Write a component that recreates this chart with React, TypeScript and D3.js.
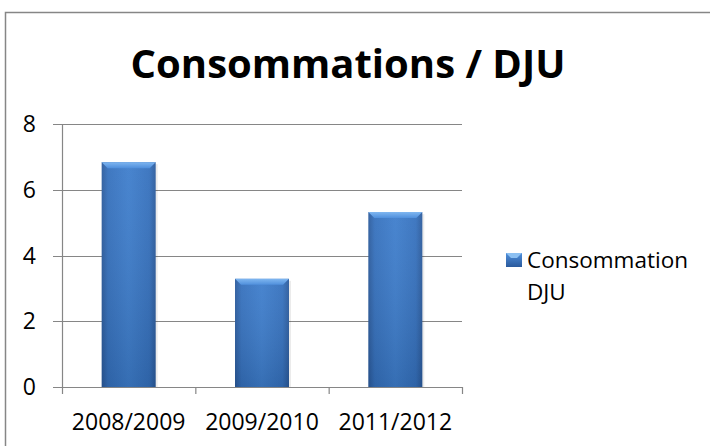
import * as d3 from "d3";

const categories = ["2008/2009", "2009/2010", "2011/2012"];
const values = [6.84, 3.29, 5.32];
const yTicks = [0, 2, 4, 6, 8];
const seriesName = ["Consommation", "DJU"];
const title = "Consommations / DJU";

const W = 710;
const H = 446;
const plot = { left: 62, right: 462, top: 124, bottom: 387 };
const FONT = "'Open Sans', 'Noto Sans', sans-serif";

export default function App() {
  const x = d3.scaleBand<string>().domain(categories).range([plot.left, plot.right]).padding(0);
  const y = d3.scaleLinear().domain([0, 8]).range([plot.bottom, plot.top]);
  const barW = x.bandwidth() * 0.405;
  const bevel = 6;

  return (
    <svg width={W} height={H} style={{ position: "absolute", left: 0, top: 0 }}>
      <defs>
        <linearGradient id="barGrad" x1="0" x2="1" y1="0" y2="0">
          <stop offset="0" stopColor="#2a5a9c" />
          <stop offset="0.12" stopColor="#3470bd" />
          <stop offset="0.5" stopColor="#3d7dcc" />
          <stop offset="0.88" stopColor="#3470bd" />
          <stop offset="1" stopColor="#2a5a9c" />
        </linearGradient>
        <linearGradient id="barShade" x1="0" x2="0" y1="0" y2="1">
          <stop offset="0" stopColor="#ffffff" stopOpacity="0.06" />
          <stop offset="1" stopColor="#000000" stopOpacity="0.12" />
        </linearGradient>
        <linearGradient id="bevelGrad" x1="0" x2="0" y1="0" y2="1">
          <stop offset="0" stopColor="#7fb6f0" />
          <stop offset="1" stopColor="#4f8fdc" />
        </linearGradient>
        <linearGradient id="legGrad" x1="0" x2="0" y1="0" y2="1">
          <stop offset="0" stopColor="#4f8fdc" />
          <stop offset="1" stopColor="#2a5a9c" />
        </linearGradient>
      </defs>
      <rect x={0} y={0} width={W} height={H} fill="#fff" />
      <rect x={5.5} y={12.5} width={W} height={H} fill="#fff" stroke="#868686" strokeWidth={1.5} />

      <text x={348} y={78} textAnchor="middle" fontFamily={FONT} fontWeight="bold" fontSize={40} fill="#000">
        {title}
      </text>

      {/* gridlines and y ticks */}
      {yTicks.map((t) => (
        <g key={t}>
          <line x1={plot.left - 9} x2={plot.right} y1={Math.round(y(t)) + 0.5} y2={Math.round(y(t)) + 0.5} stroke="#868686" strokeWidth={1.2} />
          <text x={36} y={y(t) + 8} textAnchor="end" fontFamily={FONT} fontSize={23} fill="#000">
            {t}
          </text>
        </g>
      ))}
      <line x1={plot.left + 0.5} x2={plot.left + 0.5} y1={plot.top} y2={plot.bottom + 7} stroke="#868686" strokeWidth={1.2} />
      {categories.map((c) => (
        <line key={c} x1={x(c)! + x.bandwidth() + 0.5} x2={x(c)! + x.bandwidth() + 0.5} y1={plot.bottom} y2={plot.bottom + 7} stroke="#868686" strokeWidth={1.2} />
      ))}

      {/* bars */}
      {categories.map((c, i) => {
        const cx = x(c)! + x.bandwidth() / 2;
        const x0 = cx - barW / 2;
        const top = y(values[i]);
        const h = plot.bottom - top;
        return (
          <g key={c}>
            <rect x={x0 + 2} y={top + 2} width={barW} height={h - 2} fill="#000" opacity={0.08} />
            <rect x={x0} y={top} width={barW} height={h} fill="url(#barGrad)" />
            <rect x={x0} y={top} width={barW} height={h} fill="url(#barShade)" />
            <polygon
              points={`${x0},${top} ${x0 + barW},${top} ${x0 + barW - bevel},${top + bevel} ${x0 + bevel},${top + bevel}`}
              fill="url(#bevelGrad)"
            />
          </g>
        );
      })}

      {/* category labels */}
      {categories.map((c) => (
        <text key={c} x={x(c)! + x.bandwidth() / 2} y={430} textAnchor="middle" fontFamily={FONT} fontSize={23} fill="#000">
          {c}
        </text>
      ))}

      {/* legend */}
      <rect x={506} y={253} width={16} height={14} fill="url(#legGrad)" />
      <polygon points="506,253 522,253 517,258 511,258" fill="#8cc0f2" />
      {seriesName.map((s, i) => (
        <text key={s} x={527} y={268 + i * 32} fontFamily={FONT} fontSize={22.5} fill="#000">
          {s}
        </text>
      ))}
    </svg>
  );
}
